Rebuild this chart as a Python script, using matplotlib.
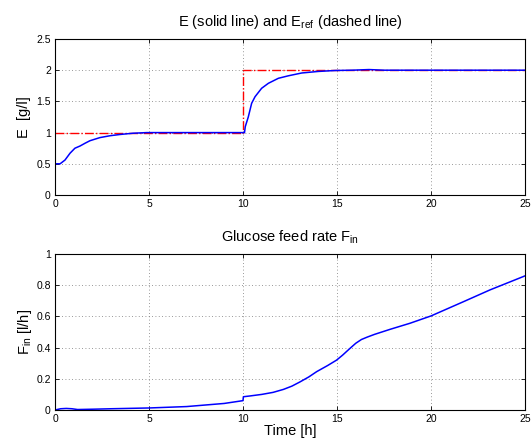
import matplotlib
matplotlib.use("Agg")
import matplotlib.pyplot as plt

plt.rcParams['font.family'] = ['Liberation Sans', 'DejaVu Sans']
plt.rcParams['mathtext.fontset'] = 'custom'
plt.rcParams['mathtext.rm'] = 'Liberation Sans'
plt.rcParams['mathtext.it'] = 'Liberation Sans'

# E (solid)
t_E = [0, 0.27, 0.53, 0.8, 1.06, 1.33, 1.6, 1.86, 2.39, 2.93, 3.46, 4.15, 4.88, 6, 8, 10.0, 10.08,
       10.12, 10.28, 10.46, 10.64, 10.99, 11.35, 11.88, 12.41, 13.12, 14.0, 14.9, 15.8, 16.7, 17.5, 19, 22, 25]
E = [0.5, 0.5, 0.56, 0.67, 0.75, 0.785, 0.83, 0.87, 0.92, 0.95, 0.97, 0.99, 1.0, 1.0, 1.0, 1.0, 1.0,
     1.095, 1.25, 1.47, 1.575, 1.71, 1.79, 1.87, 1.91, 1.955, 1.98, 1.995, 2.0, 2.01, 2.0, 2.0, 2.0, 2.0]

# E_ref (dashed)
t_ref = [0, 10, 10, 25]
E_ref = [1.0, 1.0, 2.0, 2.0]

# F_in
t_F = [0, 0.3, 0.6, 0.9, 1.2, 2, 3, 5, 7, 9, 10.0, 10.02, 10.37, 11, 11.6, 12.15, 12.6, 13.03, 13.5,
       13.92, 14.5, 14.98, 15.3, 15.69, 16.0, 16.3, 16.6, 17.0, 17.82, 18.88, 20, 21.72, 23.14, 24.9, 25]
F = [0, 0.008, 0.01, 0.008, 0.003, 0.005, 0.008, 0.013, 0.022, 0.042, 0.06, 0.085, 0.09, 0.1, 0.113,
     0.132, 0.153, 0.18, 0.212, 0.246, 0.285, 0.32, 0.352, 0.395, 0.428, 0.452, 0.467, 0.485, 0.517,
     0.556, 0.603, 0.694, 0.77, 0.855, 0.86]

x_ticks = [0, 5, 10, 15, 20, 25]
E_ticks = [0, 0.5, 1, 1.5, 2, 2.5]
F_ticks = [0, 0.2, 0.4, 0.6, 0.8, 1]

fig = plt.figure(figsize=(5.31, 4.41), dpi=100)
ax1 = fig.add_axes([0.1036, 0.5578, 0.8851, 0.3538])
ax2 = fig.add_axes([0.1036, 0.0703, 0.8851, 0.3537])

def style(ax):
    ax.grid(True, linestyle=(0, (1, 3)), color='#777777', linewidth=0.6)
    ax.tick_params(direction='in', labelsize=7.5, length=3, width=0.6, top=True, right=True, pad=3)
    for s in ax.spines.values():
        s.set_linewidth(0.8)
    ax.set_xlim(0, 25)
    ax.set_xticks(x_ticks)
    ax.set_xticklabels([str(v) for v in x_ticks])

ax1.plot(t_ref, E_ref, color='red', linestyle='-.', linewidth=1.0)
ax1.plot(t_E, E, color='blue', linewidth=1.1)
style(ax1)
ax1.set_ylim(0, 2.5)
ax1.set_yticks(E_ticks)
ax1.set_yticklabels(['0', '0.5', '1', '1.5', '2', '2.5'])
ax1.set_ylabel('E  [g/l]', fontsize=10.5, labelpad=4)
ax1.set_title(r'E (solid line) and E$_{\mathrm{ref}}$ (dashed line)', fontsize=10.5, pad=9)

ax2.plot(t_F, F, color='blue', linewidth=1.1)
style(ax2)
ax2.set_ylim(0, 1)
ax2.set_yticks(F_ticks)
ax2.set_yticklabels(['0', '0.2', '0.4', '0.6', '0.8', '1'])
ax2.set_ylabel(r'F$_{\mathrm{in}}$ [l/h]', fontsize=10.5, labelpad=2)
ax2.set_xlabel('Time [h]', fontsize=10.5, labelpad=0)
ax2.set_title(r'Glucose feed rate F$_{\mathrm{in}}$', fontsize=10.5, pad=9)

fig.savefig('out.png', dpi=100)
